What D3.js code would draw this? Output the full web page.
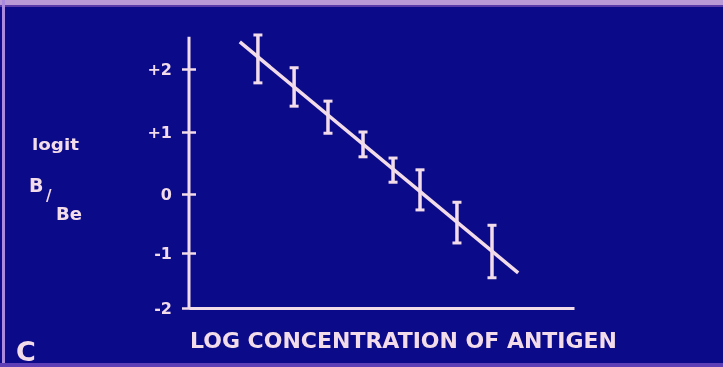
<!DOCTYPE html>
<html>
<head>
<meta charset="utf-8">
<script src="https://cdn.jsdelivr.net/npm/d3@7"></script>
<style>
  html, body { margin: 0; padding: 0; background: #0b0a86; }
  svg { display: block; }
</style>
</head>
<body>
<div id="app"></div>
<script>
// data
const logConc   = [1.79, 2.73, 3.61, 4.52, 5.30, 6.00, 6.96, 7.87]
const logitLow  = [1.78, 1.41, 0.98, 0.60, 0.19, -0.27, -0.83, -1.45]
const logitHigh = [2.54, 2.02, 1.49, 1.00, 0.58, 0.39, -0.14, -0.53]
const fitConc  = [1.32, 8.55]
const fitLogit = [2.43, -1.36]
const yTicks = [2, 1, 0, -1, -2]
const yTickLabels = ['+2', '+1', '0', '-1', '-2']

const width = 723
const height = 367
const ink = '#f3dcea'

const svg = d3.select('#app').append('svg')
    .attr('width', width)
    .attr('height', height)
    .attr('viewBox', [0, 0, width, height])

const defs = svg.append('defs')
defs.append('filter').attr('id', 'soft')
    .append('feGaussianBlur').attr('stdDeviation', 0.6)

svg.append('rect').attr('width', width).attr('height', height).attr('fill', '#0b0a88')

// slide frame
svg.append('rect').attr('x', 0).attr('y', 0).attr('width', width).attr('height', 5).attr('fill', '#b99ad6')
svg.append('rect').attr('x', 0).attr('y', 5).attr('width', width).attr('height', 2).attr('fill', '#5a3aa8')
svg.append('rect').attr('x', 2).attr('y', 0).attr('width', 3).attr('height', height).attr('fill', '#a98ade')
svg.append('rect').attr('x', 0).attr('y', height - 4).attr('width', width).attr('height', 4).attr('fill', '#5f3fb6')

// the photo is a bit keystoned, so the logit ticks are not evenly spaced
const y = d3.scaleLinear().domain([-2, -1, 0, 1, 2]).range([308, 253, 194, 132, 69])
const x = d3.scaleLinear().domain([0, 10]).range([189, 574])

const g = svg.append('g').attr('filter', 'url(#soft)')

// y axis: ticks cross the axis line
const yLeft = g.append('g').attr('transform', `translate(${x(0)},0)`)
    .call(d3.axisLeft(y).tickValues(yTicks).tickSize(7).tickPadding(10)
        .tickFormat((d, i) => yTickLabels[i]))
const yRight = g.append('g').attr('transform', `translate(${x(0)},0)`)
    .call(d3.axisRight(y).tickValues(yTicks).tickSize(7).tickFormat(''))
yLeft.select('.domain').remove()
yRight.select('.domain').remove()
g.selectAll('.tick line').attr('stroke', ink).attr('stroke-width', 2.5)
yLeft.selectAll('.tick text')
    .attr('fill', ink)
    .style('font-family', 'DejaVu Sans, sans-serif')
    .style('font-weight', 'bold')
    .style('font-size', '16px')

g.append('line')
    .attr('x1', x(0)).attr('x2', x(0))
    .attr('y1', y(-2)).attr('y2', y(2.51))
    .attr('stroke', ink).attr('stroke-width', 3)

// x axis, no ticks
const xAxis = g.append('g').attr('transform', `translate(0,${y(-2)})`)
    .call(d3.axisBottom(x).tickValues([]).tickSizeOuter(0))
xAxis.select('.domain').attr('stroke', ink).attr('stroke-width', 3)

// fitted line
const line = d3.line().x(d => x(d[0])).y(d => y(d[1]))
g.append('path')
    .attr('d', line(d3.zip(fitConc, fitLogit)))
    .attr('fill', 'none')
    .attr('stroke', ink)
    .attr('stroke-width', 3.5)

// error bars
const bars = g.selectAll('g.bar')
    .data(d3.range(logConc.length))
    .enter().append('g').attr('class', 'bar')
bars.append('line')
    .attr('x1', i => x(logConc[i])).attr('x2', i => x(logConc[i]))
    .attr('y1', i => y(logitLow[i])).attr('y2', i => y(logitHigh[i]))
    .attr('stroke', ink).attr('stroke-width', 3.5)
for (const v of [logitLow, logitHigh]) {
    bars.append('line')
        .attr('x1', i => x(logConc[i]) - 4.5).attr('x2', i => x(logConc[i]) + 4.5)
        .attr('y1', i => y(v[i])).attr('y2', i => y(v[i]))
        .attr('stroke', ink).attr('stroke-width', 3)
}

// labels
const txt = (s, px, py, size, opts = {}) => g.append('text')
    .text(s)
    .attr('x', px).attr('y', py)
    .attr('fill', ink)
    .attr('text-anchor', opts.anchor || 'start')
    .attr('dominant-baseline', opts.base || 'central')
    .style('font-family', 'DejaVu Sans, sans-serif')
    .style('font-weight', 'bold')
    .style('font-size', size + 'px')

txt('logit', 32, 145, 15).attr('textLength', 47).attr('lengthAdjust', 'spacingAndGlyphs')
txt('B', 29, 185, 19)
txt('/', 46, 196, 15)
txt('Be', 56, 214, 17).attr('textLength', 26).attr('lengthAdjust', 'spacingAndGlyphs')

txt('LOG CONCENTRATION OF ANTIGEN', 190, 341, 21)
    .attr('textLength', 427)
    .attr('lengthAdjust', 'spacingAndGlyphs')

txt('C', 16, 361, 27, {base: 'alphabetic'})
</script>
</body>
</html>
